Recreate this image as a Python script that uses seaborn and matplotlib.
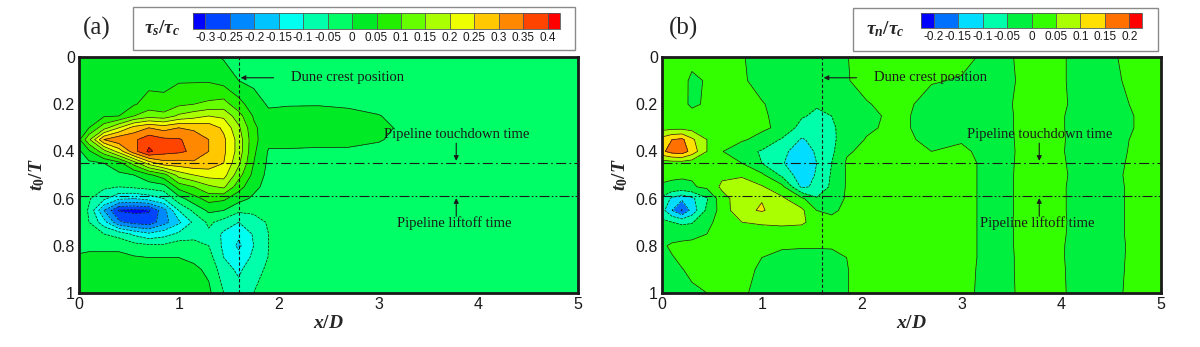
import numpy as np
import matplotlib
matplotlib.use('Agg')
import matplotlib.pyplot as plt
from matplotlib.colors import ListedColormap, BoundaryNorm
from matplotlib.patches import Rectangle
from matplotlib.ticker import MultipleLocator, FormatStrFormatter
import seaborn as sns

sns.set_theme(style='ticks')
plt.rcParams['font.family'] = ['Liberation Sans', 'DejaVu Sans']
plt.rcParams['axes.unicode_minus'] = False
plt.rcParams['mathtext.fontset'] = 'custom'
plt.rcParams['mathtext.it'] = 'Liberation Serif:italic:bold'
plt.rcParams['mathtext.rm'] = 'Liberation Serif:bold'
plt.rcParams['mathtext.bf'] = 'Liberation Serif:bold'
plt.rcParams['contour.negative_linestyle'] = 'dashed'

# ---------------- data ----------------
t_grid = [0, 0.1, 0.2, 0.25, 0.3, 0.35, 0.4, 0.45, 0.5, 0.55, 0.6, 0.65, 0.7, 0.75, 0.8, 0.85, 0.9, 1.0]

# panel (a): tau_s / tau_c, one list per x position (values down t_grid)
x_a = [0, 0.1, 0.25, 0.4, 0.55, 0.7, 0.85, 1.0, 1.15, 1.3, 1.45, 1.6, 1.75, 1.9, 2.1, 2.4, 2.7, 3.0, 3.25, 3.6, 5.0]
cols_a = [
    [0.02, 0.02, 0.02, 0.025, 0.03, 0.04, -0.01, -0.02, -0.02, -0.02, -0.02, -0.02, -0.02, -0.02, -0.01, 0.005, 0.02, 0.02],
    [0.02, 0.02, 0.03, 0.04, 0.05, 0.14, 0.04, -0.01, -0.02, -0.03, -0.045, -0.055, -0.05, -0.03, -0.01, 0.01, 0.02, 0.02],
    [0.02, 0.02, 0.035, 0.045, 0.13, 0.30, 0.13, 0.0, -0.02, -0.04, -0.09, -0.20, -0.13, -0.05, -0.01, 0.01, 0.02, 0.02],
    [0.02, 0.025, 0.04, 0.05, 0.20, 0.34, 0.22, 0.03, -0.01, -0.05, -0.14, -0.305, -0.24, -0.07, -0.01, 0.01, 0.02, 0.02],
    [0.02, 0.03, 0.045, 0.10, 0.27, 0.34, 0.33, 0.12, 0.0, -0.04, -0.15, -0.31, -0.27, -0.11, -0.03, 0.005, 0.02, 0.02],
    [0.02, 0.035, 0.07, 0.13, 0.30, 0.38, 0.41, 0.22, 0.04, -0.03, -0.13, -0.305, -0.28, -0.14, -0.04, 0.0, 0.02, 0.02],
    [0.02, 0.04, 0.06, 0.12, 0.28, 0.36, 0.37, 0.28, 0.08, -0.02, -0.10, -0.22, -0.22, -0.12, -0.04, 0.0, 0.02, 0.02],
    [0.02, 0.045, 0.09, 0.16, 0.30, 0.355, 0.36, 0.28, 0.17, 0.07, -0.02, -0.10, -0.16, -0.09, -0.02, 0.0, 0.02, 0.02],
    [0.02, 0.045, 0.10, 0.18, 0.29, 0.33, 0.34, 0.29, 0.20, 0.10, 0.03, -0.04, -0.09, -0.07, -0.03, -0.01, 0.01, 0.02],
    [0.015, 0.045, 0.11, 0.20, 0.28, 0.30, 0.30, 0.28, 0.22, 0.14, 0.07, 0.01, -0.04, -0.06, -0.05, -0.03, -0.01, 0.01],
    [-0.005, 0.03, 0.12, 0.19, 0.24, 0.26, 0.26, 0.25, 0.22, 0.16, 0.06, 0.0, -0.07, -0.11, -0.11, -0.10, -0.08, -0.05],
    [-0.02, 0.0, 0.07, 0.12, 0.16, 0.18, 0.18, 0.16, 0.12, 0.07, 0.02, -0.04, -0.10, -0.14, -0.16, -0.13, -0.11, -0.08],
    [-0.02, -0.01, 0.02, 0.045, 0.06, 0.065, 0.06, 0.05, 0.035, 0.015, -0.01, -0.04, -0.07, -0.095, -0.10, -0.09, -0.07, -0.05],
    [-0.02, -0.02, -0.005, 0.01, 0.02, 0.015, -0.005, -0.01, -0.015, -0.02, -0.025, -0.035, -0.045, -0.05, -0.05, -0.048, -0.04, -0.03],
    [-0.02, -0.02, -0.003, 0.015, 0.02, 0.015, -0.005, -0.02, -0.02, -0.02, -0.02, -0.02, -0.02, -0.02, -0.02, -0.02, -0.02, -0.02],
    [-0.02, -0.02, -0.003, 0.02, 0.025, 0.02, -0.01, -0.02, -0.02, -0.02, -0.02, -0.02, -0.02, -0.02, -0.02, -0.02, -0.02, -0.02],
    [-0.02, -0.02, -0.008, 0.015, 0.02, 0.015, -0.008, -0.02, -0.02, -0.02, -0.02, -0.02, -0.02, -0.02, -0.02, -0.02, -0.02, -0.02],
    [-0.02, -0.02, -0.02, 0.003, 0.015, 0.006, -0.02, -0.02, -0.02, -0.02, -0.02, -0.02, -0.02, -0.02, -0.02, -0.02, -0.02, -0.02],
    [-0.02, -0.02, -0.02, -0.02, -0.01, -0.02, -0.02, -0.02, -0.02, -0.02, -0.02, -0.02, -0.02, -0.02, -0.02, -0.02, -0.02, -0.02],
    [-0.02] * 18,
    [-0.02] * 18,
]

# panel (b): tau_n / tau_c, one list per t row (values across x_b)
x_b = [0, 0.1, 0.2, 0.3, 0.45, 0.6, 0.8, 1.0, 1.2, 1.4, 1.55, 1.7, 1.85, 2.05, 2.35, 2.7, 3.0, 3.35, 3.8, 4.3, 4.8, 5.0]
rows_b = [
    [0.01, 0.01, 0.01, 0.008, 0.008, 0.008, 0.002, -0.01, -0.012, -0.012, -0.012, -0.008, -0.001, 0.01, 0.012, 0.01, 0.0075, -0.01, 0.016, -0.016, 0.014, 0.012],
    [0.01, 0.01, 0.008, -0.005, 0.002, 0.01, 0.004, -0.01, -0.015, -0.018, -0.016, -0.01, -0.002, 0.01, 0.012, 0.002, -0.002, -0.012, 0.016, -0.016, 0.01, 0.012],
    [0.01, 0.01, 0.006, -0.004, 0.003, 0.01, 0.01, 0.002, -0.01, -0.03, -0.045, -0.03, -0.01, -0.002, 0.01, -0.01, -0.008, -0.01, 0.018, -0.016, 0.005, 0.012],
    [0.012, 0.012, 0.01, 0.008, 0.01, 0.012, 0.012, 0.006, -0.012, -0.045, -0.06, -0.05, -0.02, -0.008, 0.008, -0.012, -0.008, -0.01, 0.016, -0.018, 0.003, 0.01],
    [0.03, 0.035, 0.035, 0.03, 0.015, 0.012, 0.012, 0.008, -0.01, -0.07, -0.075, -0.06, -0.025, -0.005, 0.008, -0.012, -0.006, -0.01, 0.016, -0.018, 0.003, 0.01],
    [0.12, 0.15, 0.16, 0.11, 0.05, 0.01, 0.006, -0.015, -0.055, -0.105, -0.085, -0.065, -0.015, 0.002, 0.01, -0.008, -0.002, -0.01, 0.015, -0.016, 0.005, 0.01],
    [0.14, 0.17, 0.18, 0.13, 0.05, 0.002, -0.03, -0.055, -0.09, -0.12, -0.095, -0.06, -0.005, 0.01, 0.012, 0.0, 0.004, -0.01, 0.014, -0.016, 0.006, 0.01],
    [0.02, 0.025, 0.025, 0.02, 0.012, 0.008, 0.0, -0.05, -0.095, -0.135, -0.10, -0.05, 0.005, 0.01, 0.012, 0.012, 0.008, -0.01, 0.015, -0.015, 0.007, 0.012],
    [0.01, 0.008, 0.005, 0.005, 0.01, 0.04, 0.045, 0.01, -0.06, -0.13, -0.095, -0.045, 0.004, 0.01, 0.012, 0.012, 0.008, -0.01, 0.016, -0.014, 0.008, 0.012],
    [-0.005, -0.01, -0.01, -0.005, 0.01, 0.06, 0.07, 0.055, 0.015, -0.11, -0.09, -0.04, 0.004, 0.01, 0.012, 0.012, 0.008, -0.01, 0.016, -0.016, 0.008, 0.012],
    [-0.06, -0.11, -0.14, -0.11, -0.055, 0.03, 0.08, 0.098, 0.06, 0.01, -0.045, -0.02, 0.004, 0.01, 0.012, 0.012, 0.008, -0.01, 0.016, -0.016, 0.008, 0.012],
    [-0.08, -0.15, -0.205, -0.13, -0.04, 0.02, 0.09, 0.104, 0.08, 0.06, 0.0, -0.005, 0.006, 0.01, 0.012, 0.012, 0.008, -0.01, 0.016, -0.016, 0.008, 0.012],
    [-0.04, -0.05, -0.06, -0.055, -0.01, 0.015, 0.05, 0.06, 0.068, 0.062, 0.02, 0.008, 0.008, 0.01, 0.012, 0.012, 0.008, -0.01, 0.017, -0.016, 0.008, 0.012],
    [-0.01, -0.015, -0.015, -0.01, 0.0, 0.01, 0.015, 0.015, 0.012, 0.01, 0.01, 0.01, 0.01, 0.01, 0.012, 0.012, 0.008, -0.01, 0.016, -0.016, 0.008, 0.012],
    [-0.005, 0.005, 0.01, 0.01, 0.01, 0.01, 0.01, 0.008, 0.004, 0.003, 0.003, 0.003, 0.006, 0.01, 0.012, 0.012, 0.008, -0.01, 0.016, -0.018, 0.008, 0.012],
    [-0.01, -0.002, 0.006, 0.008, 0.008, 0.01, 0.006, 0.0, -0.008, -0.01, -0.01, -0.008, 0.0, 0.01, 0.012, 0.012, 0.008, -0.01, 0.015, -0.017, 0.008, 0.012],
    [-0.012, -0.008, -0.001, 0.006, 0.006, 0.008, 0.004, -0.002, -0.01, -0.012, -0.012, -0.01, -0.001, 0.01, 0.012, 0.012, 0.007, -0.01, 0.015, -0.016, 0.008, 0.012],
    [-0.012, -0.01, -0.008, -0.005, 0.0, 0.006, 0.002, -0.004, -0.01, -0.012, -0.012, -0.01, -0.001, 0.01, 0.012, 0.012, 0.006, -0.01, 0.014, -0.014, 0.008, 0.012],
]

levels_a = [-0.3, -0.25, -0.2, -0.15, -0.1, -0.05, 0, 0.05, 0.1, 0.15, 0.2, 0.25, 0.3, 0.35, 0.4]
colors_a = ['#0000FF', '#0044FF', '#0088FF', '#00C4FF', '#00FFF0', '#00FFAA', '#00FF66', '#00EA26',
            '#22EE00', '#66FF00', '#AAFF00', '#EEFF00', '#FFC800', '#FF8800', '#FF4400', '#FF0000']
levels_b = [-0.2, -0.15, -0.1, -0.05, 0, 0.05, 0.1, 0.15, 0.2]
colors_b = ['#0000FF', '#0070FF', '#00DDFF', '#00FFAA', '#00F040', '#33FF00', '#AAFF00', '#FFE000', '#FF7000', '#FF0000']

crest_x = 1.6
touchdown_t = 0.45
liftoff_t = 0.588

# ---------------- figure ----------------
W, H = 1200, 347
fig = plt.figure(figsize=(12, 3.47), dpi=100)
fig.patch.set_facecolor('white')

def fx(px):
    return px / W

def fy(py):
    return 1 - py / H


def panel(left_px, x, z, levels, colors, cb_px, box_px, title, label, label_px, title_px, extfrac):
    ax = fig.add_axes([fx(left_px), fy(293), fx(499), 236 / H])
    cmap = ListedColormap(colors[1:-1])
    cmap.set_under(colors[0])
    cmap.set_over(colors[-1])
    norm = BoundaryNorm(levels, cmap.N)
    cf = ax.contourf(x, t_grid, z, levels=levels, cmap=cmap, norm=norm, extend='both')
    ax.contour(x, t_grid, z, levels=levels, colors='k', linewidths=0.5)
    ax.set_xlim(0, 5)
    ax.set_ylim(1, 0)
    ax.xaxis.set_major_locator(MultipleLocator(1))
    ax.xaxis.set_minor_locator(MultipleLocator(0.2))
    ax.yaxis.set_major_locator(MultipleLocator(0.2))
    ax.yaxis.set_minor_locator(MultipleLocator(0.05))
    ax.xaxis.set_major_formatter(FormatStrFormatter('%g'))
    ax.yaxis.set_major_formatter(FormatStrFormatter('%g'))
    ax.tick_params(which='both', direction='in', top=False, right=False, colors='k',
                   labelsize=11.5, width=1.0)
    ax.tick_params(which='major', length=6, pad=3)
    ax.tick_params(which='minor', length=3)
    for s in ax.spines.values():
        s.set_linewidth(2.0)
        s.set_color('k')
    ax.set_xlabel('$x/D$', fontsize=14, labelpad=2)
    ax.set_ylabel('$t_0/T$', fontsize=14, labelpad=4)

    # reference lines
    ax.axvline(crest_x, color='k', lw=0.8, ls=(0, (3, 2)))
    ax.axhline(touchdown_t, color='k', lw=0.8, ls=(0, (9, 3, 1.5, 3)))
    ax.axhline(liftoff_t, color='k', lw=0.8, ls=(0, (9, 2, 1.5, 2, 1.5, 2)))
    serif = dict(fontfamily='Liberation Serif', fontsize=10.5, color='k')
    arr = dict(arrowstyle='-|>', color='k', lw=0.8, mutation_scale=7, shrinkA=0, shrinkB=0)
    ax.annotate('', xy=(crest_x + 0.02, 0.088), xytext=(1.95, 0.088), arrowprops=arr)
    ax.text(2.12, 0.088, 'Dune crest position', ha='left', va='center', **serif)
    ax.text(3.78, 0.33, 'Pipeline touchdown time', ha='center', va='center', **serif)
    ax.annotate('', xy=(3.78, 0.44), xytext=(3.78, 0.365), arrowprops=arr)
    ax.text(3.76, 0.705, 'Pipeline liftoff time', ha='center', va='center', **serif)
    ax.annotate('', xy=(3.78, 0.598), xytext=(3.78, 0.675), arrowprops=arr)

    # legend box + colorbar
    bx0, by0, bx1, by1 = box_px
    fig.patches.append(Rectangle((fx(bx0), fy(by1)), fx(bx1 - bx0), (by1 - by0) / H,
                                 transform=fig.transFigure, fill=False,
                                 edgecolor='#8a8a8a', lw=1.0))
    cx0, cy0, cx1, cy1 = cb_px
    cax = fig.add_axes([fx(cx0), fy(cy1), fx(cx1 - cx0), (cy1 - cy0) / H])
    cb = fig.colorbar(cf, cax=cax, orientation='horizontal', extend='both',
                      extendfrac=extfrac, extendrect=True, drawedges=True, ticks=levels)
    cb.outline.set_edgecolor('#555555')
    cb.outline.set_linewidth(0.6)
    cb.dividers.set_color('#555555')
    cb.dividers.set_linewidth(0.6)
    cb.ax.set_xticklabels(['%g' % v for v in levels])
    cb.ax.tick_params(length=0, pad=2, labelsize=8.5, colors='k')
    fig.text(fx(title_px[0]), fy(title_px[1]), title, ha='center', va='center', fontsize=14)
    fig.text(fx(label_px[0]), fy(label_px[1]), label, ha='center', va='center',
             fontfamily='Liberation Serif', fontsize=18)
    return ax


z_a = np.array(cols_a).T
z_b = np.array(rows_b)

panel(79, x_a, z_a, levels_a, colors_a, (193, 13, 560, 29), (133, 7, 575, 50),
      r'$\tau_s/\tau_c$', '(a)', (97, 28), (162, 28), 0.036)
panel(662, x_b, z_b, levels_b, colors_b, (921, 13, 1142, 28), (853, 8, 1158, 51),
      r'$\tau_n/\tau_c$', '(b)', (683, 28), (885, 29), 0.064)

fig.savefig('out.png', dpi=100, facecolor='white')
